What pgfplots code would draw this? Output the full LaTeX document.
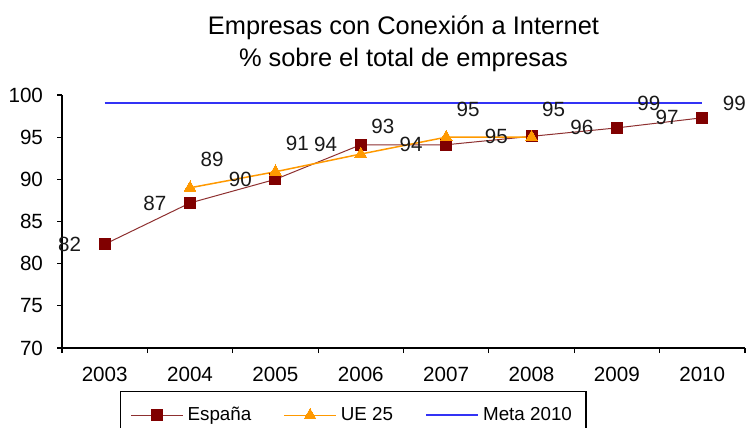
\documentclass[border=0pt]{standalone}
\usepackage{fontspec}
\setmainfont{Liberation Sans}
\usepackage{pgfplots}
\pgfplotsset{compat=1.18}

\definecolor{espana}{HTML}{800000}
\definecolor{espanaline}{HTML}{8E3030}
\definecolor{ue}{HTML}{FF9900}
\definecolor{meta}{HTML}{3333F5}

\begin{document}
\begin{tikzpicture}
\begin{axis}[
    name=ax,
    scale only axis,
    width=341.5pt, height=126.5pt,
    xmin=2002.5, xmax=2010.5,
    ymin=70, ymax=100,
    axis lines*=left,
    axis line style={black, line width=0.6pt},
    ytick={70,75,...,100},
    xtick={2003,...,2010},
    xticklabels={2003,2004,2005,2006,2007,2008,2009,2010},
    minor xtick={2002.5,2003.5,...,2010.5},
    major x tick style={draw=none},
    tick align=outside,
    major tick length=2.5pt,
    minor tick length=2.5pt,
    tick style={black, line width=0.6pt},
    /pgf/number format/assume math mode=true,
    tick label style={font=\fontsize{10.3}{12}\selectfont},
    xticklabel style={yshift=-3.5pt},
    yticklabel style={xshift=-3.5pt},
    clip=false,
    legend columns=3,
    legend style={
        at={(0.0849,-0.168)}, anchor=north west,
        draw=black, line width=0.6pt,
        font=\fontsize{9.4}{11}\selectfont,
        inner xsep=5pt, inner ysep=6pt,
        /tikz/every even column/.append style={column sep=14pt},
    },
    legend image code/.code={
        \draw[mark repeat=2,mark phase=2] plot coordinates {(0pt,0pt) (13pt,0pt) (26pt,0pt)};
    },
    every node near coord/.append style={font=\fontsize{10.3}{12}\selectfont, text=black!90},
]
% Espana
\addplot[color=espanaline, line width=0.5pt, mark=square*,
    mark options={fill=espana, draw=espana, line width=0pt}, mark size=2.75pt,
    nodes near coords={\pgfmathprintnumber[fixed,precision=0]{\pgfplotspointmeta}},
    every node near coord/.append style={anchor=east, xshift=-8.5pt}]
  coordinates {(2003,82.3) (2004,87.2) (2005,90.0) (2006,94.1) (2007,94.1) (2008,95.1) (2009,96.1) (2010,97.3)};
\addlegendentry{España}
% UE25
\addplot[color=ue, line width=0.75pt, mark=triangle*,
    mark options={fill=ue, draw=ue, line width=0pt}, mark size=3.4pt,
    nodes near coords={\pgfmathprintnumber[fixed,precision=0]{\pgfplotspointmeta}},
    every node near coord/.append style={anchor=center, xshift=11pt, yshift=14pt}]
  coordinates {(2004,89.0) (2005,90.9) (2006,93.0) (2007,95.0) (2008,95.0)};
\addlegendentry{UE 25}
% Meta 2010
\addplot[color=meta, line width=1pt, mark=none]
  coordinates {(2003,99) (2004,99) (2005,99) (2006,99) (2007,99) (2008,99) (2009,99) (2010,99)};
\addlegendentry{Meta 2010}
\addplot[draw=none, mark=none, forget plot,
    nodes near coords={\pgfmathprintnumber[fixed,precision=0]{\pgfplotspointmeta}},
    every node near coord/.append style={anchor=center, xshift=16pt}]
  coordinates {(2009,99) (2010,99)};
\end{axis}
\node[anchor=base, font=\fontsize{12.7}{15}\selectfont] at ([yshift=14pt]ax.north) {\% sobre el total de empresas};
\node[anchor=base, font=\fontsize{12.7}{15}\selectfont] at ([yshift=30pt]ax.north) {Empresas con Conexión a Internet};
\pgfresetboundingbox
\path[use as bounding box] (ax.south west) ++(-31pt,-39.5pt) rectangle ++(373.5pt,213.5pt);
\end{tikzpicture}
\end{document}
